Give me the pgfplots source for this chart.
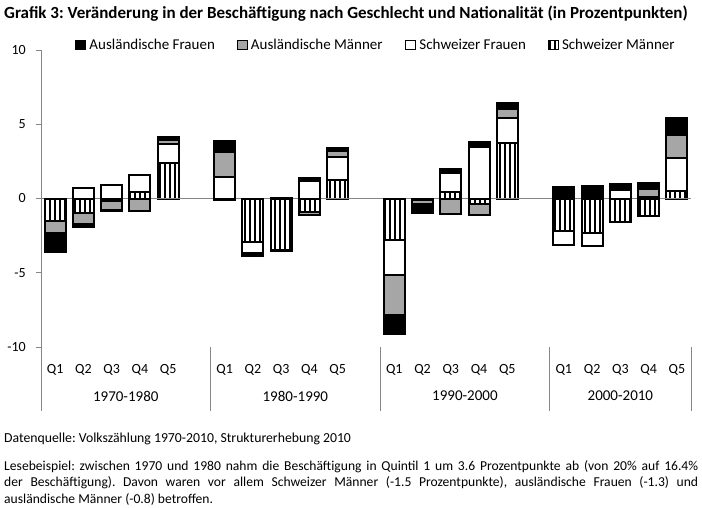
\documentclass[border=0pt]{standalone}
\usepackage{fontspec}
\setmainfont{Carlito}
\usepackage{pgfplots}
\pgfplotsset{compat=1.18}
\usepackage{pgfplotstable}
\usetikzlibrary{patterns.meta}
\definecolor{axgray}{HTML}{868686}
\definecolor{amgray}{HTML}{A6A6A6}
\frenchspacing

% positive parts (x SM SF AM AF)
\pgfplotstableread{
x SM SF AM AF
0 0 0 0 0
1 0 0.7 0 0
2 0 0.9 0 0
3 0.45 1.15 0 0
4 2.4 1.3 0.25 0.2
6 0 1.45 1.65 0.75
7 0 0 0 0
8 0 0 0 0.05
9 0 1.2 0 0.15
10 1.25 1.55 0.4 0.2
12 0 0 0 0
13 0 0 0 0
14 0.45 1.3 0 0.22
15 0 3.45 0 0.35
16 3.75 1.7 0.55 0.4
18 0 0 0 0.78
19 0 0 0 0.83
20 0 0.6 0 0.35
21 0 0.12 0.5 0.4
22 0.5 2.25 1.5 1.2
}\postab

% negative parts (x SM SF AM AF)
\pgfplotstableread{
x SM SF AM AF
0 -1.5 0 -0.8 -1.3
1 -0.95 0 -0.75 -0.2
2 -0.15 0 -0.65 -0.05
3 0 0 -0.85 0
4 0 0 0 0
6 -0.08 0 0 0
7 -2.9 -0.8 0 -0.2
8 -3.5 -0.05 0 0
9 -0.9 0 -0.2 0
10 0 0 0 0
12 -2.8 -2.35 -2.7 -1.25
13 -0.1 0 -0.3 -0.6
14 0 0 -1.05 0
15 -0.4 0 -0.7 0
16 0 0 0 0
18 -2.2 -0.95 0 0
19 -2.3 -0.88 0 0
20 -1.58 0 0 0
21 -1.2 0 0 0
22 0 0 0 0
}\negtab

\tikzset{
  smstyle/.style={draw=black, line width=2bp, pattern={Lines[angle=90,distance=5bp,line width=1.9bp]}, pattern color=black},
  sfstyle/.style={draw=black, line width=2bp, fill=white},
  amstyle/.style={draw=black, line width=2bp, fill=amgray},
  afstyle/.style={draw=black, line width=2bp, fill=black},
}
\pgfplotsset{
  common/.style={
    scale only axis, width=650bp, height=297bp,
    at={(41bp,-347bp)}, anchor=south west,
    xmin=-0.5, xmax=22.5, ymin=-10, ymax=10,
    ybar stacked, bar width=21bp, clip=false,
  },
  mylegend/.style={legend image code/.code={\draw[##1, line width=1bp] (0bp,-4.5bp) rectangle (10bp,4.5bp);}},
}

\begin{document}
\begin{tikzpicture}
\useasboundingbox (0,0) rectangle (702bp,-508bp);

\node[anchor=base west, inner sep=0pt, font=\bfseries\fontsize{17bp}{20bp}\selectfont] at (4bp,-18.5bp)
  {Grafik 3: Veränderung in der Beschäftigung nach Geschlecht und Nationalität (in Prozentpunkten)};

% positive parts + axis decoration + legend
\begin{axis}[common,
  axis lines*=left,
  x axis line style={draw=none},
  y axis line style={draw=axgray, line width=0.9bp},
  tick align=outside, major tick length=5bp,
  ytick={-10,-5,0,5,10}, yticklabels={-10,-5,0,5,10},
  ytick style={draw=axgray, line width=0.9bp},
  yticklabel style={inner sep=0pt, xshift=-10bp, font=\fontsize{14bp}{16bp}\selectfont},
  xtick={0,1,2,3,4,6,7,8,9,10,12,13,14,15,16,18,19,20,21,22},
  xticklabels={Q1,Q2,Q3,Q4,Q5,Q1,Q2,Q3,Q4,Q5,Q1,Q2,Q3,Q4,Q5,Q1,Q2,Q3,Q4,Q5},
  xtick style={draw=none},
  xticklabel style={inner sep=0pt, yshift=-12bp, font=\fontsize{14bp}{16bp}\selectfont},
  legend columns=4, reverse legend,
  legend style={at={(axis description cs:0.0523,1.0168)}, anchor=west, draw=none, fill=none,
    inner sep=0pt, outer sep=0pt, column sep=0pt,
    nodes={inner sep=0pt, font=\fontsize{15bp}{18bp}\selectfont},
    /tikz/every odd column/.append style={column sep=3.5bp}},
]
\addplot[smstyle, mylegend] table[x=x,y=SM]{\postab};
\addlegendentry{Schweizer Männer}
\addplot[sfstyle, mylegend] table[x=x,y=SF]{\postab};
\addlegendentry{\makebox[128bp][l]{Schweizer Frauen}}
\addplot[amstyle, mylegend] table[x=x,y=AM]{\postab};
\addlegendentry{\makebox[154bp][l]{Ausländische Männer}}
\addplot[afstyle, mylegend] table[x=x,y=AF]{\postab};
\addlegendentry{\makebox[147bp][l]{Ausländische Frauen}}
\end{axis}

% negative parts + zero line + category separators
\begin{axis}[common, hide axis]
\addplot[smstyle] table[x=x,y=SM]{\negtab};
\addplot[sfstyle] table[x=x,y=SF]{\negtab};
\addplot[amstyle] table[x=x,y=AM]{\negtab};
\addplot[afstyle] table[x=x,y=AF]{\negtab};
\draw[axgray, line width=0.9bp] (axis cs:-0.5,0) -- (axis cs:22.5,0);
\draw[axgray, line width=0.9bp] (axis cs:-0.5,-10) -- (axis cs:-0.5,-14.3);
\draw[axgray, line width=0.9bp] (axis cs:5.5,-10) -- (axis cs:5.5,-14.3);
\draw[axgray, line width=0.9bp] (axis cs:11.5,-10) -- (axis cs:11.5,-14.3);
\draw[axgray, line width=0.9bp] (axis cs:17.5,-10) -- (axis cs:17.5,-14.3);
\draw[axgray, line width=0.9bp] (axis cs:22.5,-10) -- (axis cs:22.5,-14.3);
\node[font=\fontsize{15bp}{18bp}\selectfont, inner sep=0pt] at (axis cs:2.5,-13.31) {1970-1980};
\node[font=\fontsize{15bp}{18bp}\selectfont, inner sep=0pt] at (axis cs:8.5,-13.31) {1980-1990};
\node[font=\fontsize{15bp}{18bp}\selectfont, inner sep=0pt] at (axis cs:14.5,-13.31) {1990-2000};
\node[font=\fontsize{15bp}{18bp}\selectfont, inner sep=0pt] at (axis cs:20,-13.31) {2000-2010};
\end{axis}

\node[anchor=base west, inner sep=0pt, font=\fontsize{13.75bp}{16.6bp}\selectfont] at (4bp,-442bp)
  {Datenquelle: Volkszählung 1970-2010, Strukturerhebung 2010};
\node[anchor=north west, inner sep=0pt, text width=694bp, align=justify,
      font=\fontsize{13.6bp}{16.6bp}\selectfont] at (4bp,-460bp)
  {Lesebeispiel: zwischen 1970 und 1980 nahm die Beschäftigung in Quintil 1 um 3.6 Prozentpunkte ab (von 20\% auf 16.4\%\linebreak
   der Beschäftigung). Davon waren vor allem Schweizer Männer (-1.5 Prozentpunkte), ausländische Frauen (-1.3) und\linebreak
   ausländische Männer (-0.8) betroffen.};
\end{tikzpicture}
\end{document}
